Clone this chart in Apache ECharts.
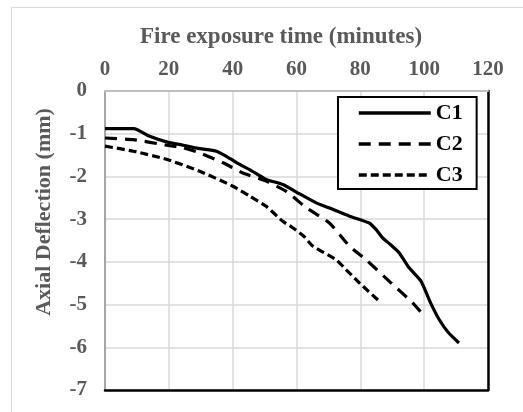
<!DOCTYPE html>
<html>
<head>
<meta charset="utf-8">
<script src="https://cdn.jsdelivr.net/npm/echarts@6/dist/echarts.min.js"></script>
<style>html,body{margin:0;padding:0;background:#fff;}#chart{width:523px;height:412px;}</style>
</head>
<body>
<div id="chart"></div>
<script>
const seriesNames = ['C1', 'C2', 'C3'];
const xTitle = 'Fire exposure time (minutes)';
const yTitle = 'Axial Deflection (mm)';
const xTicks = [0, 20, 40, 60, 80, 100, 120];
const yTicks = [0, -1, -2, -3, -4, -5, -6, -7];

const c1Time = [0, 9, 14, 19.3, 24.5, 29.7, 34.9, 38, 42.2, 45.3, 50.5, 55.7, 61, 66.2, 70, 76.6, 82.8, 84.9, 87, 89.5, 92.2, 95.3, 99, 102, 104.7, 107.5, 110.9];
const c1Defl = [-0.88, -0.88, -1.06, -1.19, -1.27, -1.35, -1.41, -1.53, -1.72, -1.84, -2.07, -2.19, -2.41, -2.62, -2.73, -2.93, -3.09, -3.24, -3.44, -3.6, -3.79, -4.14, -4.45, -4.96, -5.35, -5.65, -5.9];

const c2Time = [0, 8.9, 19.3, 24.5, 29.7, 37, 43.2, 50.5, 56.8, 63, 70.3, 76.6, 81.8, 89, 96.4, 100.5];
const c2Defl = [-1.10, -1.14, -1.27, -1.33, -1.45, -1.68, -1.92, -2.11, -2.35, -2.73, -3.09, -3.63, -3.95, -4.45, -4.96, -5.31];

const c3Time = [0, 8.9, 19.3, 29.7, 40.1, 45.3, 50.5, 55.7, 58.8, 62.3, 65.1, 72.4, 75.5, 79.7, 85.9];
const c3Defl = [-1.29, -1.41, -1.60, -1.88, -2.23, -2.46, -2.70, -3.05, -3.20, -3.40, -3.63, -3.95, -4.18, -4.49, -4.92];

const FONT = '"Liberation Serif", "Times New Roman", serif';
const GRAY = '#595959';

function pairs(xs, ys) { return xs.map((x, i) => [x, ys[i]]); }

const chart = echarts.init(document.getElementById('chart'), null, { renderer: 'canvas' });
const grid = { left: 105, top: 91, width: 383, height: 299 };

chart.setOption({
  animation: false,
  backgroundColor: '#fff',
  grid: grid,
  graphic: [
    { type: 'rect', left: 9, top: 5, shape: { width: 520, height: 406 }, style: { fill: 'none', stroke: '#d9d9d9', lineWidth: 1 }, silent: true, z: -1 },
    { type: 'text', x: 281, y: 37, style: { text: xTitle, font: 'bold 23px ' + FONT, fill: GRAY, textAlign: 'center', textVerticalAlign: 'middle' } },
    { type: 'text', x: 44, y: 212, rotation: Math.PI / 2, style: { text: yTitle, font: 'bold 22px ' + FONT, fill: GRAY, textAlign: 'center', textVerticalAlign: 'middle' } }
  ],
  legend: {
    orient: 'vertical',
    left: 338, top: 97,
    backgroundColor: '#fff',
    borderColor: '#000', borderWidth: 2,
    padding: [5, 14, 3, 19],
    itemWidth: 72, itemHeight: 21, itemGap: 9,
    itemStyle: { opacity: 0 },
    lineStyle: { width: 3.5 },
    textStyle: { fontFamily: FONT, fontWeight: 'bold', fontSize: 22, color: '#000' },
    data: seriesNames
  },
  xAxis: [
    {
      type: 'value', position: 'top', min: 0, max: 120, interval: 20,
      axisLine: { show: true, lineStyle: { color: '#bfbfbf', width: 2 } },
      axisTick: { show: false },
      axisLabel: { margin: 11, color: GRAY, fontFamily: FONT, fontWeight: 'bold', fontSize: 21,
        formatter: v => xTicks.includes(v) ? String(v) : '' },
      splitLine: { show: true, lineStyle: { color: '#d9d9d9', width: 1.5 } }
    },
    {
      type: 'value', position: 'bottom', min: 0, max: 120, interval: 20,
      axisLine: { show: true, onZero: false, lineStyle: { color: '#000', width: 2.5 } },
      axisTick: { show: false }, axisLabel: { show: false }, splitLine: { show: false }
    }
  ],
  yAxis: [
    {
      type: 'value', position: 'left', min: -7, max: 0, interval: 1,
      axisLine: { show: true, onZero: false, lineStyle: { color: '#a6a6a6', width: 2 } },
      axisTick: { show: false },
      axisLabel: { margin: 18, color: GRAY, fontFamily: FONT, fontWeight: 'bold', fontSize: 21,
        formatter: v => yTicks.includes(v) ? String(v) : '' },
      splitLine: { show: true, lineStyle: { color: '#d9d9d9', width: 1.5 } }
    },
    {
      type: 'value', position: 'right', min: -7, max: 0, interval: 1,
      axisLine: { show: true, onZero: false, lineStyle: { color: '#000', width: 2.5 } },
      axisTick: { show: false }, axisLabel: { show: false }, splitLine: { show: false }
    }
  ],
  series: [
    { name: seriesNames[0], type: 'line', data: pairs(c1Time, c1Defl), symbol: 'none', smooth: 0.2,
      lineStyle: { color: '#000', width: 3.2, type: 'solid' }, itemStyle: { color: '#000' }, z: 5 },
    { name: seriesNames[1], type: 'line', data: pairs(c2Time, c2Defl), symbol: 'none', smooth: 0.2,
      lineStyle: { color: '#000', width: 3.2, type: [12, 8] }, itemStyle: { color: '#000' }, z: 5 },
    { name: seriesNames[2], type: 'line', data: pairs(c3Time, c3Defl), symbol: 'none', smooth: 0.2,
      lineStyle: { color: '#000', width: 3.2, type: [8, 4] }, itemStyle: { color: '#000' }, z: 5 }
  ]
});
</script>
</body>
</html>
